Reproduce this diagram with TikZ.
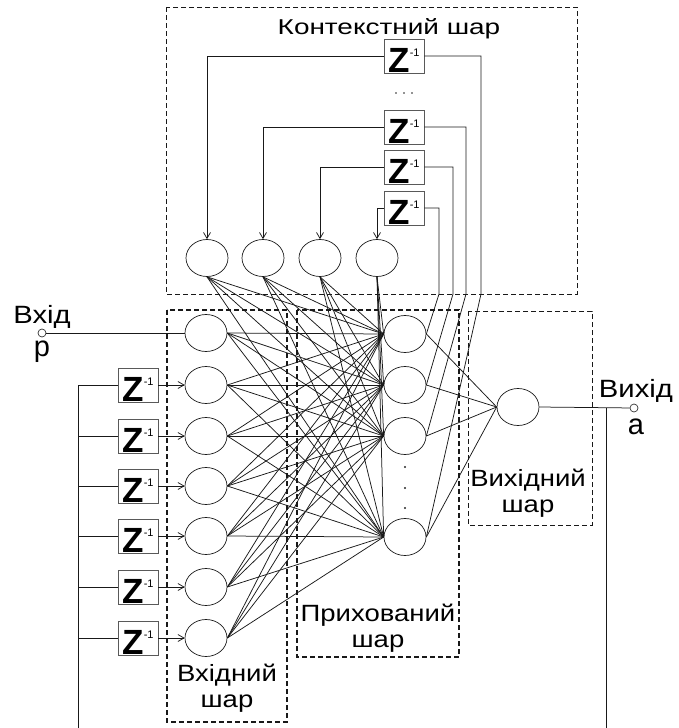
\documentclass[tikz,border=0pt]{standalone}
\usepackage{fontspec}
\setmainfont{Liberation Sans}
\newfontfamily\lblfont{Liberation Sans}[FakeStretch=1.17]
\newfontfamily\ttlfont{Liberation Sans}[FakeStretch=1.3]
\usetikzlibrary{arrows.meta,shapes.geometric}
\newcommand{\zinv}{{\fontsize{35}{35}\selectfont\bfseries Z}\raisebox{16pt}{\fontsize{11}{11}\selectfont -1}}
\tikzset{
	neuron/.style={ellipse, draw=black!90, line width=0.7pt, minimum width=42pt, minimum height=37pt, inner sep=0pt},
	delay/.style={draw=black!65, line width=0.9pt, minimum width=40pt, minimum height=34pt, inner sep=0pt, text height=32pt, text depth=0pt},
	layer/.style={draw=black!90, line width=1pt, dash pattern=on 5pt off 3pt},
	layerbold/.style={layer, line width=1.4pt},
	pin/.style={circle, draw=black!80, line width=0.7pt, minimum size=8pt, inner sep=0pt},
	wire/.style={draw=black!90, line width=0.75pt},
	lbl/.style={font=\lblfont\fontsize{23.5}{26}\selectfont, inner sep=0pt, align=center},
}
\begin{document}
\begin{tikzpicture}[x=1pt, y=-1pt, >={Straight Barb[length=6pt, width=7pt]}]
			%%%%% START %%%%%
			\useasboundingbox (0, 0) rectangle (678, 728);
			
			% layers
			\draw[layer] (166, 7) rectangle (577, 294);
			\draw[layerbold] (167, 310) rectangle (287, 722);
			\draw[layerbold] (297, 310) rectangle (459, 657);
			\draw[layer] (468, 311) rectangle (592, 525);
			
			\node[font=\ttlfont\fontsize{21.5}{24}\selectfont, anchor=base, inner sep=0pt] (ttl) at (389, 34) {Контекстний шар};
			\node[lbl, anchor=north] (lin) at (227, 664) {Вхідний\\шар};
			\node[lbl, anchor=north] (lhid) at (378, 604) {Прихований\\шар};
			\node[lbl, anchor=north] (lout) at (528, 469) {Вихідний\\шар};
			
			% neurons
			\foreach \n/\x in {1/207, 2/263, 3/320, 4/377}
				\node[neuron] (c\n) at (\x, 258) {};
			\foreach \n/\y in {1/333, 2/385, 3/436, 4/486, 5/536, 6/587, 7/638}
				\node[neuron] (i\n) at (206, \y) {};
			\foreach \n/\y in {1/334, 2/385, 3/436, 4/537}
				\node[neuron] (h\n) at (405, \y) {};
			\node[neuron] (o) at (518, 407) {};
			
			\foreach \y in {467, 488, 508}
				\fill[black!85] (405, \y) circle (1.1);
			\foreach \x in {396, 404, 412}
				\fill[black!85] (\x, 93) circle (0.8);
			
			% delays
			\foreach \n/\y in {1/56, 2/127, 3/167, 4/208}
				\node[delay] (zc\n) at (404, \y) {\zinv};
			\foreach \n/\y in {2/385, 3/436, 4/486, 5/536, 6/587, 7/638}
				\node[delay] (d\n) at (138, \y) {\zinv};
			
			% weights
			\foreach \i in {1,...,7}
				\foreach \j in {1,...,4}
					\draw[wire] (i\i.east) -- (h\j.west);
			\foreach \c in {1,...,4}
				\foreach \j in {1,...,4}
					\draw[wire] (c\c.south) -- (h\j.west);
			\foreach \j in {1,...,4}
				\draw[wire] (h\j.east) -- (o.west);
			
			% context feedback
			\foreach \n in {1,...,4}
				\draw[wire, ->] (zc\n.west) -| (c\n.north);
			\foreach \n/\x/\h in {1/481/4, 2/466/3, 3/453/2, 4/439/1} {
				\coordinate (f\n) at (\x, 294);
				\draw[wire] (zc\n.east) -| (f\n) -- (h\h.east);
			}
			
			% input
			\node[pin] (p) at (42, 333) {};
			\node[lbl, font=\lblfont\fontsize{25}{26}\selectfont, anchor=base] (pvx) at (42, 323) {Вхід};
			\node[font=\fontsize{29}{30}\selectfont, anchor=base, inner sep=0pt] (pp) at (42, 356) {p};
			\draw[wire] (p) -- (i1.west);
			
			\coordinate (busL) at (78, 728);
			\draw[wire] (busL) |- (d2.west);
			\foreach \n in {3,...,7}
				\draw[wire] (d\n.west) -- (d\n.west -| busL);
			\foreach \n in {2,...,7}
				\draw[wire, ->] (d\n.east) -- (i\n.west);
			
			% output
			\node[pin] (a) at (634, 408) {};
			\node[lbl, font=\lblfont\fontsize{25}{26}\selectfont, anchor=base] (avx) at (636, 397) {Вихід};
			\node[font=\fontsize{29}{30}\selectfont, anchor=base, inner sep=0pt] (aa) at (636, 434) {a};
			\draw[wire] (o.east) -- (a);
			\coordinate (busR) at (606, 728);
			\draw[wire] (busR) -- (busR |- a);
			
			%%%%% END %%%%%
\end{tikzpicture}
\end{document}
